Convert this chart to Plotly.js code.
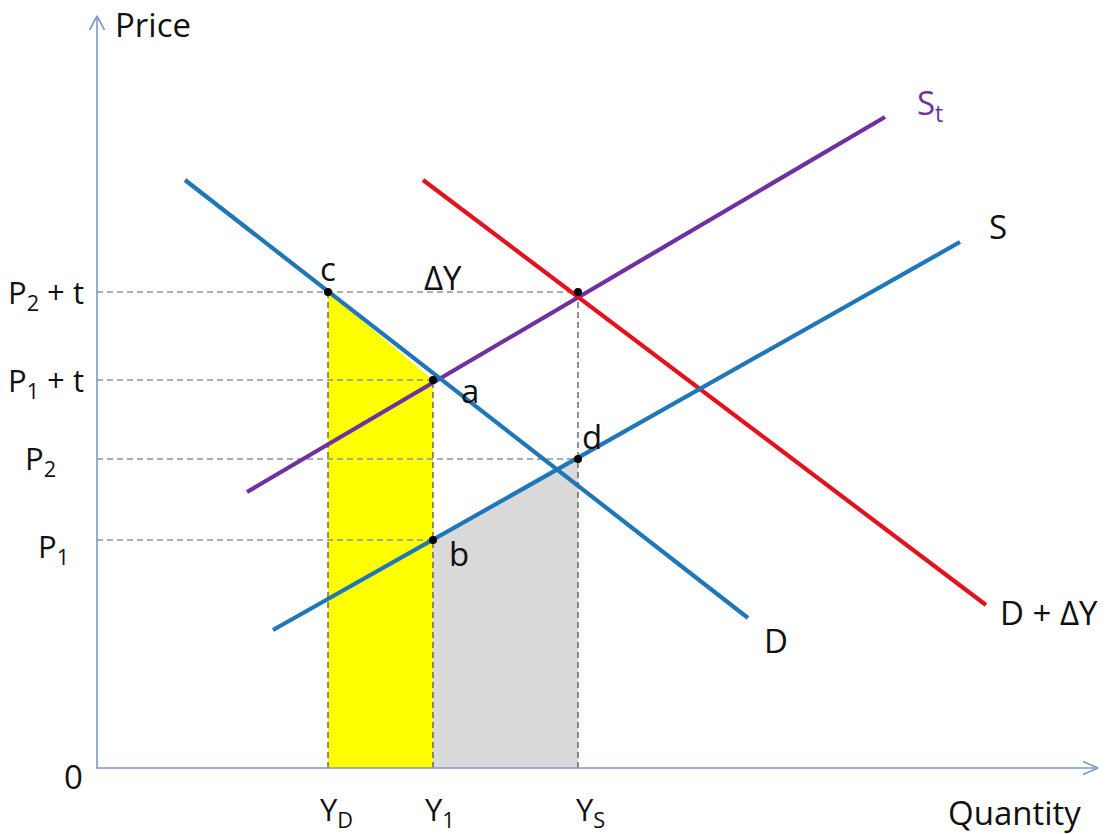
<!DOCTYPE html>
<html><head><meta charset="utf-8">
<script src="https://cdn.plot.ly/plotly-3.0.1.min.js"></script>
<style>html,body{margin:0;padding:0;background:#fff}#chart{width:1110px;height:834px}</style>
</head><body><div id="chart"></div>
<script>
// Quantity levels (x) and price levels (y)
const qNames = ['Y<sub>D</sub>', 'Y<sub>1</sub>', 'Y<sub>S</sub>'];
const qVals = [23.1, 33.6, 48.1];           // YD, Y1, YS
const pNames = ['P<sub>1</sub>', 'P<sub>2</sub>', 'P<sub>1</sub> + t', 'P<sub>2</sub> + t'];
const pVals = [22.8, 30.9, 38.8, 47.6];      // P1, P2, P1+t, P2+t

// Curve end points
const dX = [8.8, 65.1],  dY = [58.8, 15.0];          // D
const dyX = [32.6, 88.9], dyY = [58.8, 16.3];        // D + ΔY
const stX = [15.0, 78.8], stY = [27.6, 65.1];        // S_t
const sX = [17.6, 86.3], sY = [13.8, 52.6];          // S

// axis extents
const xMax = 100.1, yMax = 75.2;

const [YD, Y1, YS] = qVals;
const [P1, P2, P1t, P2t] = pVals;

const blue = '#1f77b8', red = '#e3121b', purple = '#7030a0', axisCol = '#7f9ac6', dashCol = '#8a94a3';
const traces = [];

// shaded areas
traces.push({x:[YD, YD, Y1, Y1, YD], y:[0, P2t, P1t, 0, 0], fill:'toself', fillcolor:'#ffff00', mode:'none', type:'scatter'});
traces.push({x:[Y1, Y1, YS, YS, Y1], y:[0, P1, P2, 0, 0], fill:'toself', fillcolor:'#d9d9d9', mode:'none', type:'scatter'});

// dashed guide lines
function dash(xs, ys, col){ traces.push({x:xs, y:ys, mode:'lines', type:'scatter', line:{color:col||dashCol, width:1.3, dash:'6px,4px'}}); }
dash([0, YS], [P2t, P2t]);
dash([0, Y1], [P1t, P1t]);
dash([0, YS], [P2, P2]);
dash([0, Y1], [P1, P1]);
dash([YD, YD], [0, P2t], '#555');
dash([Y1, Y1], [0, P1t], '#555');
dash([YS, YS], [0, P2t], '#555');

// curves
function line(xs, ys, col){ traces.push({x:xs, y:ys, mode:'lines', type:'scatter', line:{color:col, width:4.2}}); }
line(stX, stY, purple);
line(dyX, dyY, red);
line(sX, sY, blue);
line(dX, dY, blue);

// points
traces.push({x:[YD, Y1, Y1, YS, YS], y:[P2t, P1t, P1, P2, P2t], mode:'markers', type:'scatter', marker:{color:'#000', size:8}});

// axes
traces.push({x:[0, 0, xMax], y:[yMax, 0, 0], mode:'lines', type:'scatter', line:{color:axisCol, width:1.6}});
traces.push({x:[-0.75, 0, 0.75], y:[yMax-1.4, yMax, yMax-1.4], mode:'lines', type:'scatter', line:{color:axisCol, width:1.6}});
traces.push({x:[xMax-1.5, xMax, xMax-1.5], y:[0.65, 0, -0.65], mode:'lines', type:'scatter', line:{color:axisCol, width:1.6}});

const F = 'Open Sans, sans-serif';
function ann(x, y, text, opts){ return Object.assign({x:x, y:y, text:text, showarrow:false, xref:'x', yref:'y', font:{family:F, size:33, color:'#111'}}, opts||{}); }
const pFont = {family:F, size:31, color:'#111'};

const annotations = [
  ann(1.6, 74.4, 'Price', {xanchor:'left'}),
  ann(98.6, -4.4, 'Quantity', {xanchor:'right'}),
  ann(-2.4, -0.8, '0'),
  ann(YD + 0.8, -4.3, qNames[0], {font:pFont}),
  ann(Y1 + 0.7, -4.3, qNames[1], {font:pFont}),
  ann(YS + 1.2, -4.3, qNames[2], {font:pFont}),
  ann(-1.1, P2t - 0.2, pNames[3], {xanchor:'right', font:pFont}),
  ann(-1.1, P1t - 0.2, pNames[2], {xanchor:'right', font:pFont}),
  ann(-3.9, P2 - 0.1, pNames[1], {xanchor:'right', font:pFont}),
  ann(-2.6, P1 - 0.8, pNames[0], {xanchor:'right', font:pFont}),
  ann(YD, 50.0, 'c'),
  ann(34.6, 49.1, 'ΔY'),
  ann(37.3, 37.8, 'a'),
  ann(49.5, 33.2, 'd'),
  ann(36.2, 21.5, 'b'),
  ann(83.3, 66.4, 'S<sub>t</sub>', {font:{family:F, size:33, color:purple}}),
  ann(90.1, 54.2, 'S'),
  ann(67.9, 12.8, 'D'),
  ann(100.3, 15.6, 'D + ΔY', {xanchor:'right'})
];

const layout = {
  width:1110, height:834,
  margin:{l:0, r:0, t:0, b:0},
  showlegend:false, hovermode:false,
  paper_bgcolor:'#fff', plot_bgcolor:'#fff',
  xaxis:{range:[-9.7, 101.3], visible:false, fixedrange:true},
  yaxis:{range:[-6.6, 76.8], visible:false, fixedrange:true},
  annotations:annotations
};
traces.forEach(t => { t.hoverinfo = 'skip'; });
Plotly.newPlot('chart', traces, layout, {displayModeBar:false, staticPlot:true});
</script></body></html>
